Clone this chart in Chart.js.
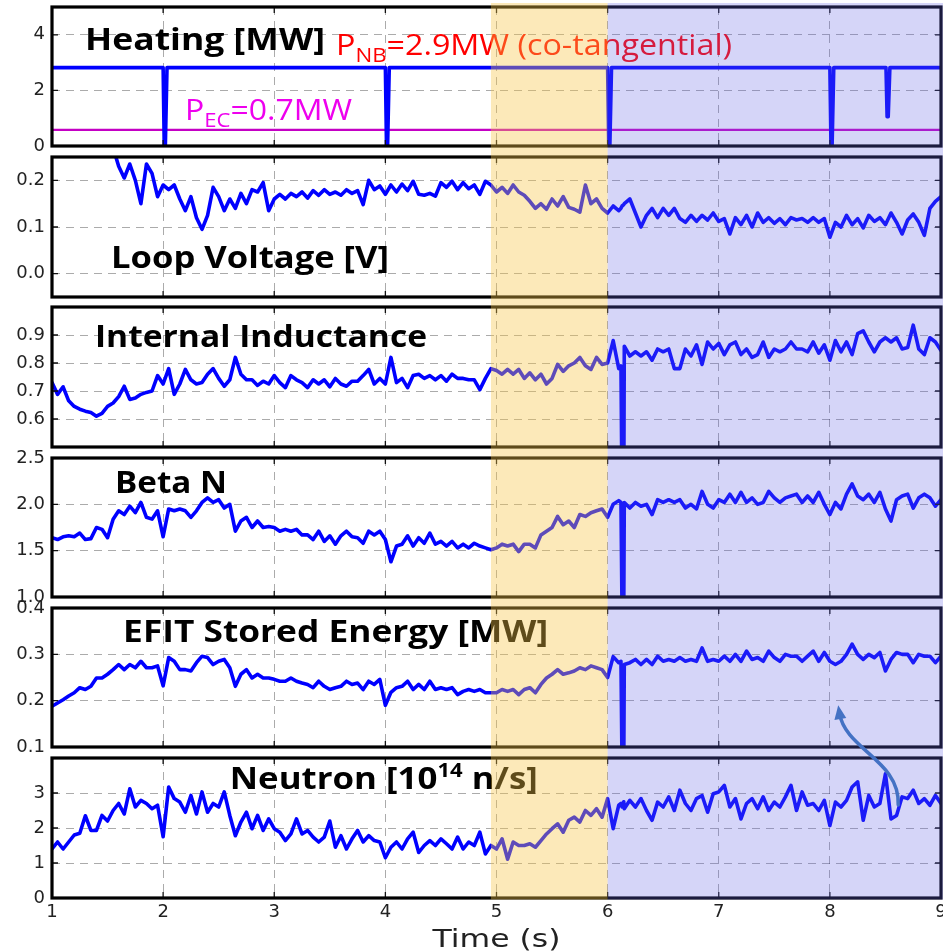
<!DOCTYPE html>
<html>
<head>
<meta charset="utf-8">
<title>Heating, loop voltage, internal inductance, beta N, stored energy and neutron traces</title>
<script src="https://cdn.jsdelivr.net/npm/chart.js@4.4.1/dist/chart.umd.min.js"></script>
<style>
  html, body { margin: 0; padding: 0; background: #fff; }
  #fig { position: relative; width: 943px; height: 952px; }
  #fig canvas { position: absolute; left: 0; top: 0; }
</style>
</head>
<body>
<div id="fig"></div>
<script>
// Six stacked time traces sharing one time axis. Every panel is its own Chart.js
// chart on a full-size transparent canvas; layout padding puts each plot box in place.
/* global Chart */

const W = 943, H = 952;
const BLUE = "#0000ff";
const GRID = "rgba(0,0,0,0.33)";
const TICK_FONT = { family: "DejaVu Sans", size: 18 };
const TICK_COLOR = "#222";
const TITLE = "bold 30px 'Open Sans'";
const NOTE = "29px 'Open Sans'";
const SMALL = "20px 'Open Sans'";
const LW = 3.6;

// ---------- data ----------
const X_TICKS = [1, 2, 3, 4, 5, 6, 7, 8, 9];

const TIME = [
  1.00, 1.05, 1.10, 1.15, 1.20, 1.25, 1.30, 1.35, 1.40, 1.45, 1.50, 1.55, 1.60, 1.65, 1.70, 1.75, 1.80, 1.85, 1.90, 1.95,
  2.00, 2.05, 2.10, 2.15, 2.20, 2.25, 2.30, 2.35, 2.40, 2.45, 2.50, 2.55, 2.60, 2.65, 2.70, 2.75, 2.80, 2.85, 2.90, 2.95,
  3.00, 3.05, 3.10, 3.15, 3.20, 3.25, 3.30, 3.35, 3.40, 3.45, 3.50, 3.55, 3.60, 3.65, 3.70, 3.75, 3.80, 3.85, 3.90, 3.95,
  4.00, 4.05, 4.10, 4.15, 4.20, 4.25, 4.30, 4.35, 4.40, 4.45, 4.50, 4.55, 4.60, 4.65, 4.70, 4.75, 4.80, 4.85, 4.90, 4.95,
  5.00, 5.05, 5.10, 5.15, 5.20, 5.25, 5.30, 5.35, 5.40, 5.45, 5.50, 5.55, 5.60, 5.65, 5.70, 5.75, 5.80, 5.85, 5.90, 5.95,
  6.00, 6.05, 6.10, 6.12, 6.13, 6.145, 6.15, 6.20, 6.25, 6.30, 6.35, 6.40, 6.45, 6.50, 6.55, 6.60, 6.65, 6.70, 6.75, 6.80, 6.85, 6.90, 6.95,
  7.00, 7.05, 7.10, 7.15, 7.20, 7.25, 7.30, 7.35, 7.40, 7.45, 7.50, 7.55, 7.60, 7.65, 7.70, 7.75, 7.80, 7.85, 7.90, 7.95,
  8.00, 8.05, 8.10, 8.15, 8.20, 8.25, 8.30, 8.35, 8.40, 8.45, 8.50, 8.55, 8.60, 8.65, 8.70, 8.75, 8.80, 8.85, 8.90, 8.95,
  9.00,
];

// heating: neutral beam steps and the flat EC power
const HEAT_T = [1.0, 2.0, 2.01, 2.02, 2.035, 4.0, 4.01, 4.02, 4.035, 6.0, 6.01, 6.02, 6.035,
  8.0, 8.01, 8.02, 8.035, 8.505, 8.515, 8.525, 8.54, 9.0];
const HEAT_NB = [2.82, 2.82, 0, 0, 2.82, 2.82, 0, 0, 2.82, 2.82, 0, 0, 2.82,
  2.82, 0, 0, 2.82, 2.82, 1.05, 1.05, 2.82, 2.82];
const EC_T = [1.0, 9.0];
const EC_P = [0.58, 0.58];

const LOOP_V = [
  null, null, null, null, null, null, null, null, null, null, null, 0.27, 0.23, 0.205, 0.235, 0.2, 0.15, 0.235, 0.215, 0.165,
  0.19, 0.18, 0.19, 0.16, 0.135, 0.165, 0.12, 0.095, 0.125, 0.185, 0.165, 0.135, 0.16, 0.14, 0.172, 0.15, 0.18, 0.175, 0.195, 0.135,
  0.16, 0.17, 0.16, 0.172, 0.165, 0.175, 0.162, 0.178, 0.168, 0.18, 0.17, 0.175, 0.168, 0.18, 0.172, 0.178, 0.148, 0.2, 0.18, 0.188,
  0.17, 0.19, 0.175, 0.192, 0.178, 0.198, 0.17, 0.168, 0.172, 0.166, 0.195, 0.185, 0.198, 0.18, 0.195, 0.182, 0.19, 0.17, 0.198, 0.19,
  0.175, 0.185, 0.172, 0.19, 0.175, 0.168, 0.155, 0.14, 0.15, 0.138, 0.16, 0.145, 0.165, 0.142, 0.138, 0.132, 0.19, 0.15, 0.16, 0.14,
  0.13, 0.145, 0.135, 0.14, 0.145, 0.148, 0.15, 0.16, 0.13, 0.1, 0.125, 0.14, 0.12, 0.14, 0.125, 0.14, 0.118, 0.11, 0.125, 0.112, 0.125, 0.115, 0.13,
  0.112, 0.118, 0.085, 0.12, 0.105, 0.125, 0.1, 0.13, 0.11, 0.12, 0.108, 0.118, 0.105, 0.12, 0.115, 0.118, 0.11, 0.12, 0.11, 0.118,
  0.078, 0.11, 0.1, 0.125, 0.105, 0.118, 0.098, 0.125, 0.112, 0.12, 0.105, 0.13, 0.11, 0.085, 0.115, 0.128, 0.11, 0.082, 0.14, 0.155,
  0.165,
];

const LI = [
  0.73, 0.688, 0.715, 0.665, 0.645, 0.635, 0.628, 0.623, 0.61, 0.62, 0.645, 0.657, 0.68, 0.717, 0.67, 0.675, 0.688, 0.695, 0.70, 0.755,
  0.725, 0.78, 0.688, 0.725, 0.777, 0.74, 0.725, 0.73, 0.76, 0.78, 0.745, 0.717, 0.74, 0.82, 0.76, 0.74, 0.74, 0.72, 0.735, 0.725,
  0.755, 0.73, 0.712, 0.755, 0.74, 0.73, 0.712, 0.74, 0.725, 0.74, 0.715, 0.745, 0.725, 0.717, 0.735, 0.735, 0.755, 0.777, 0.725, 0.745,
  0.725, 0.82, 0.73, 0.745, 0.712, 0.755, 0.76, 0.745, 0.755, 0.74, 0.755, 0.735, 0.76, 0.745, 0.745, 0.74, 0.74, 0.705, 0.745, 0.78,
  0.773, 0.76, 0.777, 0.76, 0.777, 0.745, 0.765, 0.74, 0.76, 0.725, 0.745, 0.795, 0.77, 0.79, 0.8, 0.82, 0.79, 0.777, 0.82, 0.795,
  0.8, 0.88, 0.78, 0.79, 0.3, 0.3, 0.86, 0.825, 0.84, 0.825, 0.84, 0.81, 0.85, 0.84, 0.85, 0.78, 0.78, 0.85, 0.825, 0.865, 0.795, 0.875, 0.85,
  0.87, 0.83, 0.865, 0.875, 0.83, 0.85, 0.82, 0.83, 0.875, 0.82, 0.85, 0.84, 0.85, 0.875, 0.85, 0.85, 0.84, 0.875, 0.835, 0.865,
  0.81, 0.88, 0.84, 0.875, 0.83, 0.905, 0.915, 0.875, 0.84, 0.875, 0.89, 0.875, 0.89, 0.85, 0.855, 0.935, 0.85, 0.83, 0.89, 0.875,
  0.845,
];

const BETA_N = [
  1.64, 1.62, 1.65, 1.66, 1.65, 1.69, 1.62, 1.63, 1.75, 1.73, 1.64, 1.84, 1.93, 1.89, 1.98, 1.91, 2.02, 1.86, 1.84, 1.93,
  1.65, 1.95, 1.93, 1.95, 1.93, 1.86, 1.93, 2.02, 2.07, 2.02, 2.05, 1.96, 2.0, 1.71, 1.82, 1.86, 1.75, 1.82, 1.75, 1.76,
  1.75, 1.71, 1.73, 1.71, 1.73, 1.67, 1.67, 1.62, 1.71, 1.6, 1.66, 1.57, 1.66, 1.71, 1.65, 1.64, 1.58, 1.71, 1.67, 1.71,
  1.62, 1.38, 1.55, 1.57, 1.66, 1.55, 1.64, 1.58, 1.69, 1.57, 1.6, 1.55, 1.6, 1.53, 1.57, 1.53, 1.58, 1.55, 1.53, 1.51,
  1.53, 1.57, 1.55, 1.57, 1.49, 1.57, 1.57, 1.53, 1.67, 1.71, 1.75, 1.87, 1.78, 1.82, 1.75, 1.89, 1.87, 1.91, 1.93, 1.95,
  1.86, 2.0, 2.04, 2.02, 0.8, 0.8, 2.02, 1.96, 2.02, 1.98, 2.0, 1.89, 2.05, 2.02, 2.05, 2.02, 2.05, 1.96, 2.0, 1.95, 2.14, 2.0, 1.96,
  2.05, 2.02, 2.11, 2.02, 2.13, 2.02, 2.07, 2.0, 2.02, 2.14, 2.07, 2.02, 2.07, 2.09, 2.11, 2.02, 2.09, 2.02, 2.13, 2.0,
  1.89, 2.02, 1.95, 2.11, 2.22, 2.09, 2.05, 2.11, 2.02, 2.13, 1.95, 1.82, 2.05, 2.09, 2.11, 1.96, 2.07, 2.11, 2.07, 1.98,
  2.05,
];

const W_EFIT = [
  0.188, 0.195, 0.202, 0.21, 0.217, 0.228, 0.224, 0.231, 0.249, 0.249, 0.257, 0.267, 0.278, 0.267, 0.278, 0.271, 0.285, 0.271, 0.271, 0.275,
  0.232, 0.293, 0.285, 0.267, 0.267, 0.264, 0.282, 0.296, 0.293, 0.278, 0.285, 0.289, 0.271, 0.231, 0.257, 0.267, 0.249, 0.257, 0.249, 0.249,
  0.246, 0.242, 0.242, 0.249, 0.242, 0.238, 0.235, 0.228, 0.242, 0.231, 0.224, 0.228, 0.231, 0.242, 0.235, 0.238, 0.224, 0.242, 0.235, 0.246,
  0.19, 0.218, 0.228, 0.231, 0.242, 0.224, 0.235, 0.224, 0.242, 0.224, 0.228, 0.224, 0.228, 0.213, 0.22, 0.224, 0.22, 0.224, 0.217, 0.217,
  0.217, 0.224, 0.22, 0.224, 0.213, 0.224, 0.228, 0.217, 0.235, 0.249, 0.257, 0.267, 0.257, 0.26, 0.264, 0.271, 0.267, 0.275, 0.271, 0.267,
  0.25, 0.295, 0.282, 0.285, 0.05, 0.05, 0.278, 0.282, 0.289, 0.278, 0.289, 0.278, 0.296, 0.285, 0.289, 0.285, 0.293, 0.285, 0.289, 0.285, 0.314, 0.285, 0.289,
  0.285, 0.296, 0.285, 0.3, 0.285, 0.307, 0.289, 0.293, 0.285, 0.307, 0.293, 0.285, 0.3, 0.296, 0.296, 0.285, 0.296, 0.307, 0.285, 0.304,
  0.285, 0.278, 0.285, 0.3, 0.322, 0.3, 0.289, 0.3, 0.293, 0.304, 0.264, 0.289, 0.304, 0.3, 0.3, 0.282, 0.3, 0.296, 0.296, 0.282,
  0.296,
];

const NEUTRON = [
  1.4, 1.6, 1.4, 1.6, 1.8, 1.85, 2.35, 1.93, 1.93, 2.36, 2.2, 2.5, 2.7, 2.4, 3.12, 2.6, 2.79, 2.7, 2.55, 2.65,
  1.75, 3.17, 2.84, 2.74, 2.45, 2.93, 2.4, 3.03, 2.45, 2.7, 2.6, 3.03, 2.36, 1.78, 2.17, 2.45, 1.98, 2.36, 1.93, 2.26,
  1.98, 1.88, 1.64, 1.83, 2.26, 1.83, 1.93, 1.74, 1.6, 1.74, 2.2, 1.45, 1.78, 1.4, 1.69, 1.93, 1.6, 1.78, 1.64, 1.6,
  1.15, 1.45, 1.6, 1.4, 1.69, 1.88, 1.3, 1.5, 1.64, 1.5, 1.69, 1.55, 1.4, 1.74, 1.4, 1.6, 1.5, 1.88, 1.26, 1.5,
  1.4, 1.69, 1.11, 1.6, 1.5, 1.5, 1.55, 1.45, 1.64, 1.83, 1.98, 2.12, 1.88, 2.22, 2.31, 2.17, 2.5, 2.36, 2.55, 2.31,
  2.84, 1.98, 2.65, 2.7, 2.6, 2.75, 2.55, 2.79, 2.6, 2.84, 2.5, 2.22, 2.74, 2.6, 2.89, 2.5, 3.08, 2.7, 2.5, 2.84, 2.93, 2.45, 2.98,
  3.03, 3.22, 2.6, 2.84, 2.26, 2.7, 2.84, 2.55, 2.89, 2.5, 2.74, 2.6, 2.89, 3.22, 2.5, 3.03, 2.65, 2.7, 2.5, 2.79,
  2.07, 2.74, 2.6, 2.79, 3.17, 3.32, 2.22, 2.93, 2.6, 2.7, 3.55, 2.26, 2.36, 2.89, 2.84, 3.08, 2.7, 2.84, 2.65, 2.93,
  2.7,
];

// shaded time windows (drawn over every panel) and the curved pointer, in time / neutron units
const BANDS = [
  { from: 4.95, to: 6.0, color: "rgba(248,196,70,0.38)" },
  { from: 6.0, to: null, color: "rgba(100,100,230,0.27)" },
];
const BAND_TOP = 3;
const ARROW = [[8.615, 2.66], [8.633, 3.94], [8.138, 4.23], [8.075, 5.51]];

// ---------- panels ----------
const fmt1 = (v) => v.toFixed(1);
const fmt0 = (v) => String(v);

const PANELS = [
  {
    top: 7, bottom: 146, min: 0, max: 5, ticks: [0, 2, 4], fmt: fmt0,
    series: [
      { t: HEAT_T, v: HEAT_NB, color: BLUE, width: LW },
      { t: EC_T, v: EC_P, color: "#c400c4", width: 2.2 },
    ],
    notes: [
      { t: 1.297, v: 3.45, width: 240, segs: [{ text: "Heating [MW]", font: TITLE }] },
      { t: 3.556, v: 3.27, width: 396, color: "#ff0000", segs: [
        { text: "P", font: NOTE }, { text: "NB", font: SMALL, dy: 7 }, { text: "=2.9MW (co-tangential)", font: NOTE }] },
      { t: 2.197, v: 0.945, width: 167, color: "#ee00ee", segs: [
        { text: "P", font: NOTE }, { text: "EC", font: SMALL, dy: 7 }, { text: "=0.7MW", font: NOTE }] },
    ],
  },
  {
    top: 157, bottom: 297, min: -0.05, max: 0.25, ticks: [0, 0.1, 0.2], fmt: fmt1,
    series: [{ t: TIME, v: LOOP_V, color: BLUE, width: LW }],
    notes: [{ t: 1.531, v: 0.013, width: 278, segs: [{ text: "Loop Voltage [V]", font: TITLE }] }],
  },
  {
    top: 307, bottom: 447, min: 0.5, max: 1.0, ticks: [0.6, 0.7, 0.8, 0.9], fmt: fmt1,
    series: [{ t: TIME, v: LI, color: BLUE, width: LW }],
    notes: [{ t: 1.387, v: 0.858, width: 332, segs: [{ text: "Internal Inductance", font: TITLE }] }],
  },
  {
    top: 458, bottom: 597, min: 1.0, max: 2.5, ticks: [1.0, 1.5, 2.0, 2.5], fmt: fmt1,
    series: [{ t: TIME, v: BETA_N, color: BLUE, width: LW }],
    notes: [{ t: 1.567, v: 2.12, width: 112, segs: [{ text: "Beta N", font: TITLE }] }],
  },
  {
    top: 608, bottom: 747, min: 0.1, max: 0.4, ticks: [0.1, 0.2, 0.3, 0.4], fmt: fmt1,
    series: [{ t: TIME, v: W_EFIT, color: BLUE, width: LW }],
    notes: [{ t: 1.64, v: 0.327, width: 425, segs: [{ text: "EFIT Stored Energy [MW]", font: TITLE }] }],
  },
  {
    top: 758, bottom: 898, min: 0, max: 4, ticks: [0, 1, 2, 3], fmt: fmt0,
    series: [{ t: TIME, v: NEUTRON, color: BLUE, width: LW }],
    notes: [
      { t: 2.60, v: 3.11, width: 308, segs: [
        { text: "Neutron [10", font: TITLE }, { text: "14", font: "bold 19px 'Open Sans'", dy: -12 }, { text: " n/s]", font: TITLE }] },
      { t: 5.0, v: -1.41, width: 128, center: true, color: TICK_COLOR, segs: [{ text: "Time (s)", font: "24px 'DejaVu Sans'" }] },
    ],
  },
];

// ---------- plugins ----------
const notesPlugin = {
  id: "notes",
  afterDatasetsDraw(chart, args, opts) {
    const { ctx, scales: { x, y } } = chart;
    for (const n of opts.items || []) {
      let natural = 0;
      for (const s of n.segs) { ctx.font = s.font; natural += ctx.measureText(s.text).width; }
      const sx = n.width ? n.width / natural : 1;
      let px = x.getPixelForValue(n.t);
      if (n.center) px -= (natural * sx) / 2;
      ctx.save();
      ctx.translate(px, y.getPixelForValue(n.v));
      ctx.scale(sx, 1);
      ctx.textBaseline = "alphabetic";
      let cx = 0;
      for (const s of n.segs) {
        ctx.font = s.font;
        ctx.fillStyle = n.color || "#000";
        ctx.fillText(s.text, cx, s.dy || 0);
        cx += ctx.measureText(s.text).width;
      }
      ctx.restore();
    }
  },
};

// heavy box round each plot plus short inward tick marks on all four sides
const framePlugin = {
  id: "frame",
  afterDatasetsDraw(chart) {
    const { ctx, chartArea: a, scales: { x, y } } = chart;
    ctx.save();
    ctx.strokeStyle = "#111";
    ctx.lineWidth = 1.3;
    ctx.beginPath();
    x.ticks.forEach((t) => {
      const px = x.getPixelForValue(t.value);
      ctx.moveTo(px, a.top); ctx.lineTo(px, a.top + 6);
      ctx.moveTo(px, a.bottom); ctx.lineTo(px, a.bottom - 6);
    });
    y.ticks.forEach((t) => {
      const py = y.getPixelForValue(t.value);
      ctx.moveTo(a.left, py); ctx.lineTo(a.left + 6, py);
      ctx.moveTo(a.right, py); ctx.lineTo(a.right - 6, py);
    });
    ctx.stroke();
    ctx.lineWidth = 3.2;
    ctx.strokeStyle = "#000";
    ctx.strokeRect(a.left, a.top, a.right - a.left, a.bottom - a.top);
    ctx.restore();
  },
};

// translucent windows laid over the whole figure, then the pointer arrow
const overlayPlugin = {
  id: "overlay",
  afterDraw(chart) {
    const { ctx, chartArea: a, scales: { x, y } } = chart;
    ctx.save();
    for (const b of BANDS) {
      const x0 = x.getPixelForValue(b.from);
      const x1 = b.to == null ? chart.width : x.getPixelForValue(b.to);
      ctx.fillStyle = b.color;
      ctx.fillRect(x0, BAND_TOP, x1 - x0, a.bottom + 1.5 - BAND_TOP);
    }
    const p = ARROW.map(([t, v]) => [x.getPixelForValue(t), y.getPixelForValue(v)]);
    ctx.strokeStyle = "#4472c4";
    ctx.fillStyle = "#4472c4";
    ctx.lineWidth = 3.5;
    ctx.lineCap = "round";
    const ang = Math.atan2(p[3][1] - p[2][1], p[3][0] - p[2][0]);
    const back = [p[3][0] - 8 * Math.cos(ang), p[3][1] - 8 * Math.sin(ang)];
    ctx.beginPath();
    ctx.moveTo(p[0][0], p[0][1]);
    ctx.bezierCurveTo(p[1][0], p[1][1], p[2][0], p[2][1], back[0], back[1]);
    ctx.stroke();
    ctx.beginPath();
    ctx.moveTo(p[3][0], p[3][1]);
    ctx.lineTo(p[3][0] - 14 * Math.cos(ang) + 6 * Math.sin(ang), p[3][1] - 14 * Math.sin(ang) - 6 * Math.cos(ang));
    ctx.lineTo(p[3][0] - 14 * Math.cos(ang) - 6 * Math.sin(ang), p[3][1] - 14 * Math.sin(ang) + 6 * Math.cos(ang));
    ctx.closePath();
    ctx.fill();
    ctx.restore();
  },
};

// ---------- build ----------
function makePanel(host, p, last) {
  const canvas = document.createElement("canvas");
  canvas.width = W;
  canvas.height = H;
  host.appendChild(canvas);
  const xh = last ? 30 : 0;
  const axisGrid = { color: GRID, lineWidth: 1, drawTicks: false };
  const axisBorder = { display: false, dash: [8, 6] };
  return new Chart(canvas, {
    type: "line",
    data: {
      datasets: p.series.map((s) => ({
        data: s.t.map((t, k) => ({ x: t, y: s.v[k] })),
        borderColor: s.color,
        borderWidth: s.width,
        borderJoinStyle: "round",
        borderCapStyle: "round",
        pointRadius: 0,
        tension: 0,
        fill: false,
      })),
    },
    options: {
      responsive: false,
      animation: false,
      events: [],
      layout: { autoPadding: false, padding: { left: 0, right: 2, top: p.top, bottom: H - p.bottom - xh } },
      plugins: {
        legend: { display: false },
        tooltip: { enabled: false },
        notes: { items: p.notes },
      },
      scales: {
        x: {
          type: "linear", min: 1, max: 9,
          afterBuildTicks: (s) => { s.ticks = X_TICKS.map((v) => ({ value: v })); },
          afterFit: (s) => { s.height = xh; s.paddingLeft = 0; s.paddingRight = 0; },
          grid: axisGrid, border: axisBorder,
          ticks: { display: last, font: TICK_FONT, color: TICK_COLOR, padding: 4, maxRotation: 0, autoSkip: false },
        },
        y: {
          type: "linear", min: p.min, max: p.max,
          afterBuildTicks: (s) => { s.ticks = p.ticks.map((v) => ({ value: v })); },
          afterFit: (s) => { s.width = 52; s.paddingTop = 0; s.paddingBottom = 0; },
          grid: axisGrid, border: axisBorder,
          ticks: { font: TICK_FONT, color: TICK_COLOR, padding: 7, callback: (v) => p.fmt(v) },
        },
      },
    },
    plugins: last ? [notesPlugin, framePlugin, overlayPlugin] : [notesPlugin, framePlugin],
  });
}

const fig = document.getElementById("fig");
PANELS.forEach((p, i) => makePanel(fig, p, i === PANELS.length - 1));
</script>
</body>
</html>
